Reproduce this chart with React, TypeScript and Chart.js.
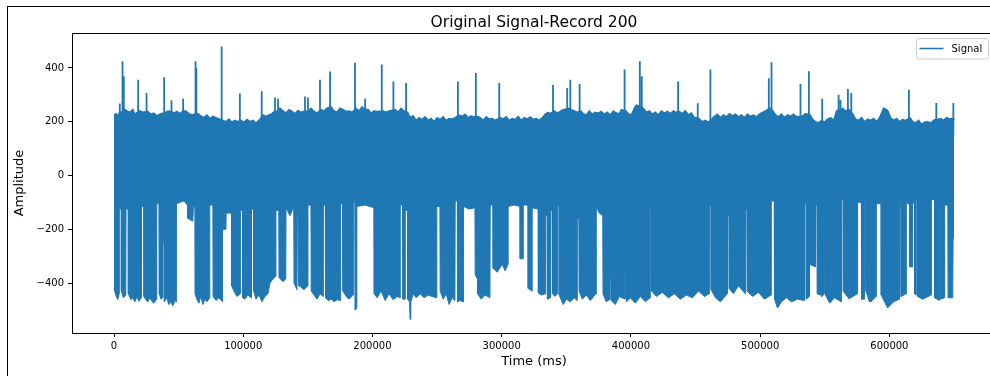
import React, { useEffect, useRef } from 'react';
import { Chart, registerables } from 'chart.js';

Chart.register(...registerables);

// ---------- data ----------
const titleText = 'Original Signal-Record 200';
const xLabel = 'Time (ms)';
const yLabel = 'Amplitude';
const legendLabel = 'Signal';

const xTicks = [0, 100000, 200000, 300000, 400000, 500000, 600000];
const yTicks = [-400, -200, 0, 200, 400];

// upper envelope of the dense band (time in ms, amplitude)
const upperTime = [
  0, 1400, 2900, 4500, 5700, 7200, 8400, 9900, 12200, 14600, 16100, 20000, 22300, 26200, 28500,
  30800, 33200, 35500, 40100, 41700, 44500, 46300, 48600, 51000, 53500, 55600, 57900, 60300, 64900,
  67200, 69600, 71900, 74200, 76500, 78900, 81200, 84300, 86600, 88900, 91200, 93600, 95900, 98200,
  100500, 102900, 105200, 107500, 109800, 112200, 115300, 117600, 119900, 122200, 124600, 126900,
  128400, 130800, 133100, 135400, 137700, 140000, 142400, 144700, 147800, 150100, 152400, 154800,
  157100, 160200, 162500, 164800, 167900, 170300, 172600, 174900, 177200, 179600, 181900, 184200,
  187300, 189600, 191900, 194300, 196600, 198900, 201200, 203600, 208200, 210500, 212900, 217500,
  219800, 222200, 224500, 227200, 229100, 231500, 233800, 236100, 238400, 240700, 243100, 245400,
  247700, 250000, 252400, 254700, 257000, 259300, 261700, 264000, 267100, 269400, 271700, 274100,
  276400, 277900, 281000, 283300, 285700, 288000, 290300, 292600, 295000, 298800, 301200, 303500,
  305800, 308100, 310500, 312800, 315100, 317400, 319800, 322100, 324400, 326700, 329100, 331400,
  333700, 336000, 337600, 340700, 343000, 345300, 347600, 351900, 353800, 356200, 358500, 361200,
  363100, 365500, 367800, 370100, 372400, 374800, 377100, 379400, 381700, 384000, 386400, 388700,
  391000, 392600, 396100, 398000, 400300, 402600, 404200, 405700, 409600, 411900, 414300, 416600,
  418900, 421200, 423600, 425900, 428200, 430500, 432800, 434400, 437500, 439800, 442100, 444500,
  446800, 449100, 451700, 453000, 455300, 457600, 460000, 462700, 464600, 466900, 469300, 471600,
  473900, 476200, 478500, 480900, 483200, 485500, 487800, 490200, 492500, 494800, 497100, 499500,
  501800, 504100, 507600, 509900, 511900, 514200, 516500, 518800, 521200, 523500, 525800, 528100,
  532400, 535100, 538600, 540500, 542800, 545200, 547500, 549800, 552100, 554500, 556800, 559100,
  560700, 562200, 563800, 566100, 568800, 571500, 573800, 576100, 578500, 580800, 583100, 585400,
  587800, 590100, 592400, 595500, 597800, 599000, 600900, 603300, 605600, 607900, 610200, 612600,
  616000, 618000, 620300, 622600, 624900, 627300, 629600, 631900, 634200, 636300, 637300, 639700,
  642000, 644300, 646600, 648200, 649500, 650000,
];
const upperAmp = [
  225, 230, 222, 235, 235, 240, 245, 240, 235, 245, 228, 240, 235, 238, 228,
  232, 222, 228, 235, 240, 238, 232, 238, 230, 240, 240, 230, 225, 230,
  222, 215, 225, 212, 220, 215, 210, 205, 200, 210, 198, 205, 200, 205,
  198, 208, 200, 205, 195, 205, 225, 220, 225, 230, 240, 238,
  250, 240, 232, 245, 238, 230, 242, 235, 240, 238, 250, 238,
  232, 245, 240, 250, 255, 240, 235, 250, 245, 238, 240, 235,
  250, 240, 255, 245, 245, 232, 240, 238, 240, 235, 240, 245,
  235, 250, 240, 235, 215, 222, 205, 215, 208, 218, 205, 212,
  200, 215, 208, 218, 205, 212, 210, 215, 225, 220, 228, 215,
  222, 218, 220, 215, 205, 218, 210, 212, 205, 215, 210, 218,
  205, 212, 208, 220, 205, 215, 210, 218, 208, 212, 205, 215,
  228, 235, 230, 240, 232, 238, 245, 250, 245, 240, 235, 240,
  230, 225, 240, 228, 235, 232, 238, 228, 235, 225, 240, 232,
  230, 245, 240, 230, 225, 250, 262, 260, 250, 235, 240, 228,
  235, 225, 240, 232, 238, 230, 240, 235, 238, 230, 240, 225,
  232, 215, 215, 210, 200, 205, 198, 210, 220, 228, 215, 225,
  218, 230, 222, 228, 218, 225, 215, 228, 220, 225, 218, 228,
  235, 240, 250, 240, 225, 218, 228, 215, 225, 220, 228, 218,
  220, 230, 225, 210, 200, 195, 205, 198, 210, 215, 205, 240,
  245, 240, 250, 240, 245, 230, 210, 205, 215, 200, 210, 205,
  212, 200, 215, 250, 245, 238, 215, 205, 212, 200, 208, 205,
  215, 200, 195, 205, 190, 198, 200, 195, 205, 210, 208, 212,
  205, 215, 210, 212, 212, 205,
];

// peaks rising above the band (time in ms, peak amplitude)
const spikeTime = [
  4500, 6600, 7600, 18700, 25200, 38800, 44500, 53500, 63100, 63700,
  83300, 97400, 114300, 124600, 126900, 147800, 150100, 159400, 167200, 186500,
  194300, 207200, 216200, 226000, 266100, 280000, 298100, 339700, 350700, 353100,
  360300, 395100, 406900, 408400, 436500, 451700, 461500, 506700, 508800, 531200,
  537700, 548000, 560700, 562200, 567900, 570500, 615100, 636300, 649500,
];
const spikePeak = [
  268, 425, 369, 356, 307, 365, 280, 285, 425, 400,
  480, 305, 313, 290, 285, 294, 290, 356, 387, 419,
  285, 413, 350, 344, 350, 381, 344, 337, 325, 356,
  340, 394, 425, 369, 350, 269, 394, 362, 421, 340,
  388, 285, 300, 280, 322, 307, 319, 270, 270,
];
const spikeBase = 150;

// lower envelope of the signal (time in ms, amplitude)
const lowerTime = [
  0, 1400, 2900, 4000, 4100, 5700, 5700, 7200, 9100, 9300, 11100, 11100, 13000, 14600, 16100, 17700,
  19200, 21100, 21300, 23100, 23200, 24600, 26200, 27700, 29300, 30800, 32900, 33100, 34900, 35100,
  36300, 37800, 37900, 38900, 39000, 40900, 42400, 44000, 45500, 47100, 48100, 48300, 51000, 54100,
  56800, 57200, 61000, 61400, 62600, 62700, 64100, 65700, 67200, 68800, 70300, 71900, 74000, 74100,
  76500, 76700, 78900, 81200, 83900, 84000, 86600, 86800, 90900, 91000, 92800, 95100, 97700, 97800,
  99500, 99700, 101300, 103600, 106200, 106400, 108100, 108200, 109800, 112200, 114500, 116800,
  119100, 120700, 123000, 125200, 125300, 127500, 127700, 130800, 132900, 133100, 136200, 139100,
  139300, 141600, 141900, 143000, 143100, 144700, 147000, 150000, 150100, 152400, 152600, 154800,
  157100, 159400, 161800, 162000, 163500, 163700, 165600, 168500, 170300, 172600, 175300, 175400,
  177000, 177200, 179600, 181900, 185100, 185200, 186500, 186700, 187800, 187900, 194300, 201200,
  201400, 203600, 206700, 209800, 212900, 216000, 219100, 221400, 221500, 223400, 223600, 225300,
  225400, 227100, 227300, 228700, 229100, 229700, 231500, 233800, 236900, 240000, 243100, 246200,
  249700, 249800, 252200, 252400, 254700, 257000, 259300, 261700, 263800, 264000, 265700, 265800,
  267900, 270300, 270400, 274800, 279300, 279500, 281300, 281400, 284100, 287200, 290900, 291100,
  293300, 293400, 296500, 300400, 302700, 304900, 305000, 309700, 314200, 314300, 316500, 316700,
  320400, 320500, 323500, 323600, 328300, 328400, 330600, 333900, 334000, 335200, 335400, 337700,
  337900, 339100, 339300, 341400, 343000, 343100, 344400, 344500, 347600, 350000, 353100, 356200,
  358300, 358500, 359700, 359900, 362400, 365500, 368600, 373000, 373200, 375500, 378200, 378400,
  380900, 383700, 383800, 384600, 384800, 387900, 391000, 395500, 395700, 396400, 396600, 399500,
  403400, 407300, 411200, 414900, 415000, 416000, 416100, 419700, 424300, 429000, 433600, 438300,
  442900, 447600, 452200, 456900, 460600, 460700, 462000, 462100, 465400, 469300, 474500, 474700,
  475800, 475900, 479300, 483200, 488500, 488600, 489700, 489900, 494000, 498700, 503300, 508400,
  508600, 510900, 511100, 513400, 516500, 520400, 524200, 528900, 534200, 534300, 535600, 535700,
  538000, 538200, 542700, 542800, 543900, 544100, 546600, 546700, 547500, 547600, 548900, 549000,
  550000, 550100, 553700, 557600, 562800, 563000, 564100, 564200, 569000, 569200, 569900, 570100,
  575200, 575400, 578300, 578500, 580600, 580800, 581700, 581900, 584500, 584700, 585400, 585600,
  589700, 589900, 593600, 593700, 598600, 603300, 607800, 607900, 609000, 609100, 612900, 613100,
  615700, 615800, 617800, 618000, 619400, 619500, 620600, 620800, 621700, 621800, 625700, 632300,
  632500, 634900, 635000, 638600, 638700, 639700, 639800, 642600, 642800, 645200, 645400, 649000,
  649300, 650000,
];
const lowerAmp = [
  -420, -445, -462, -440, -125, -125, -430, -455, -445, -125, -125, -440, -462, -455, -470, -450,
  -468, -455, -115, -115, -450, -462, -470, -455, -468, -475, -460, -105, -105, -440,
  -460, -455, -250, -250, -470, -455, -480, -470, -485, -465, -470, -105, -100, -95,
  -110, -160, -170, -120, -115, -440, -460, -475, -450, -480, -460, -470, -455, -110,
  -110, -450, -465, -455, -470, -200, -200, -140, -140, -410, -430, -450, -440, -130,
  -130, -455, -460, -445, -455, -125, -125, -430, -460, -445, -470, -450,
  -440, -400, -385, -375, -130, -130, -380, -395, -385, -120, -150, -115,
  -400, -425, -150, -150, -410, -415, -425, -410, -110, -110, -430, -445,
  -460, -440, -450, -110, -110, -455, -465, -460, -470, -462, -465, -105,
  -105, -430, -450, -460, -445, -100, -100, -500, -495, -115, -110, -120,
  -440, -455, -430, -465, -440, -462, -450, -455, -110, -110, -460, -460,
  -130, -130, -460, -470, -535, -470, -440, -455, -440, -455, -445, -450,
  -455, -115, -115, -430, -460, -440, -480, -455, -465, -95, -95, -470,
  -465, -470, -115, -125, -120, -370, -385, -440, -460, -445, -455, -110,
  -110, -345, -360, -330, -355, -330, -115, -110, -115, -310, -310, -110,
  -110, -420, -430, -120, -125, -437, -445, -440, -150, -150, -460, -455,
  -130, -130, -440, -450, -440, -110, -110, -445, -480, -460, -470, -455,
  -465, -160, -160, -430, -460, -445, -465, -440, -115, -140, -150, -440,
  -470, -460, -380, -380, -465, -480, -450, -460, -360, -360, -470, -455,
  -475, -450, -470, -455, -130, -130, -430, -450, -435, -455, -440, -460,
  -445, -455, -430, -450, -440, -110, -110, -425, -455, -470, -440, -150,
  -150, -420, -440, -410, -440, -125, -125, -430, -450, -435, -460, -445,
  -95, -95, -460, -493, -470, -455, -470, -460, -465, -105, -105, -460,
  -450, -330, -340, -110, -110, -440, -445, -245, -245, -450, -445, -170,
  -170, -440, -475, -455, -470, -90, -90, -430, -460, -150, -150, -455,
  -440, -100, -100, -460, -460, -80, -80, -430, -470, -330, -330, -470,
  -450, -105, -105, -445, -493, -470, -460, -115, -115, -450, -440, -100,
  -110, -340, -340, -105, -100, -440, -445, -80, -80, -450, -460, -445,
  -90, -90, -455, -465, -125, -125, -460, -455, -110, -110, -455, -455,
  -232, -232,
];

const BLUE = '#1f77b4';
const FONT = "'DejaVu Sans', sans-serif";

const minusLabel = (v: number) => (v < 0 ? '\u2212' + Math.abs(v) : String(v));

export default function App() {
  const ref = useRef<HTMLCanvasElement>(null);

  useEffect(() => {
    const canvas = ref.current;
    if (!canvas) return;
    Chart.defaults.font.family = FONT;

    const deco = {
      id: 'deco',
      afterDraw(chart: any) {
        const { ctx, chartArea: ca } = chart;
        ctx.save();
        ctx.strokeStyle = '#000';
        ctx.lineWidth = 1;
        ctx.beginPath();
        ctx.moveTo(ca.left, Math.round(ca.top) + 0.5);
        ctx.lineTo(ca.right, Math.round(ca.top) + 0.5);
        ctx.stroke();
        ctx.beginPath();
        ctx.moveTo(Math.round(ca.right) + 0.5, ca.top);
        ctx.lineTo(Math.round(ca.right) + 0.5, ca.bottom);
        ctx.stroke();

        const cx = (ca.left + ca.right) / 2;
        ctx.fillStyle = '#000';
        ctx.font = `15.5px ${FONT}`;
        ctx.textAlign = 'center';
        ctx.textBaseline = 'alphabetic';
        ctx.fillText(titleText, cx, ca.top - 6.5);
        ctx.font = `13px ${FONT}`;
        ctx.textBaseline = 'middle';
        ctx.fillText(xLabel, cx, 362);
        ctx.save();
        ctx.translate(20, (ca.top + ca.bottom) / 2);
        ctx.rotate(-Math.PI / 2);
        ctx.fillText(yLabel, 0, 0);
        ctx.restore();

        // legend
        const lx = ca.right - 79.5;
        const ly = ca.top + 5.5;
        const lw = 72;
        const lh = 20.5;
        const r = 2.5;
        ctx.beginPath();
        ctx.moveTo(lx + r, ly);
        ctx.lineTo(lx + lw - r, ly);
        ctx.quadraticCurveTo(lx + lw, ly, lx + lw, ly + r);
        ctx.lineTo(lx + lw, ly + lh - r);
        ctx.quadraticCurveTo(lx + lw, ly + lh, lx + lw - r, ly + lh);
        ctx.lineTo(lx + r, ly + lh);
        ctx.quadraticCurveTo(lx, ly + lh, lx, ly + lh - r);
        ctx.lineTo(lx, ly + r);
        ctx.quadraticCurveTo(lx, ly, lx + r, ly);
        ctx.closePath();
        ctx.fillStyle = 'rgba(255,255,255,0.8)';
        ctx.fill();
        ctx.strokeStyle = '#cccccc';
        ctx.lineWidth = 1;
        ctx.stroke();
        ctx.strokeStyle = BLUE;
        ctx.lineWidth = 1.5;
        ctx.beginPath();
        ctx.moveTo(lx + 3, ly + 10);
        ctx.lineTo(lx + 27, ly + 10);
        ctx.stroke();
        ctx.fillStyle = '#000';
        ctx.font = `10px ${FONT}`;
        ctx.textAlign = 'left';
        ctx.textBaseline = 'middle';
        ctx.fillText(legendLabel, lx + 35, ly + 10.5);
        ctx.restore();
      },
    };

    const spikeData: any[] = [];
    spikeTime.forEach((t, i) => {
      spikeData.push({ x: t, y: spikeBase }, { x: t, y: spikePeak[i] }, { x: t, y: null });
    });

    const chart = new Chart(canvas, {
      type: 'line',
      data: {
        datasets: [
          {
            label: legendLabel,
            data: upperTime.map((t, i) => ({ x: t, y: upperAmp[i] })),
            borderColor: BLUE,
            backgroundColor: BLUE,
            borderWidth: 1.5,
            pointRadius: 0,
            tension: 0,
            fill: { value: -90 },
          },
          {
            label: legendLabel + ' low',
            data: lowerTime.map((t, i) => ({ x: t, y: lowerAmp[i] })),
            borderColor: BLUE,
            backgroundColor: BLUE,
            borderWidth: 1,
            pointRadius: 0,
            tension: 0,
            fill: 'origin',
          },
          {
            label: legendLabel + ' peaks',
            data: spikeData,
            borderColor: BLUE,
            borderWidth: 1.8,
            pointRadius: 0,
            tension: 0,
            spanGaps: false,
            fill: false,
          },
        ],
      },
      options: {
        responsive: false,
        animation: false,
        devicePixelRatio: 1,
        layout: { padding: { left: 0, right: 4, top: 33, bottom: 0 } },
        plugins: {
          legend: { display: false },
          title: { display: false },
          tooltip: { enabled: false },
        },
        events: [],
        scales: {
          x: {
            type: 'linear',
            min: -32500,
            max: 682500,
            afterBuildTicks: (s: any) => {
              s.ticks = xTicks.map((v) => ({ value: v }));
            },
            afterFit: (s: any) => {
              s.height = 43;
            },
            ticks: {
              callback: (v: any) => String(v),
              color: '#000',
              font: { size: 10, family: FONT },
              padding: 3,
              maxRotation: 0,
              autoSkip: false,
            },
            grid: { drawOnChartArea: false, drawTicks: true, tickLength: 4, color: '#000' },
            border: { display: true, color: '#000', width: 1 },
          },
          y: {
            type: 'linear',
            min: -586,
            max: 530,
            afterBuildTicks: (s: any) => {
              s.ticks = yTicks.map((v) => ({ value: v }));
            },
            afterFit: (s: any) => {
              s.width = 72;
            },
            ticks: {
              callback: (v: any) => minusLabel(Number(v)),
              color: '#000',
              font: { size: 10, family: FONT },
              padding: 4,
              autoSkip: false,
            },
            grid: { drawOnChartArea: false, drawTicks: true, tickLength: 4, color: '#000' },
            border: { display: true, color: '#000', width: 1 },
          },
        },
      },
      plugins: [deco],
    });

    return () => chart.destroy();
  }, []);

  return (
    <div
      style={{
        position: 'absolute',
        left: 0,
        top: 0,
        width: 990,
        height: 376,
        overflow: 'hidden',
        background: '#fff',
      }}
    >
      <div
        style={{
          position: 'absolute',
          left: 7,
          top: 6,
          width: 1100,
          height: 500,
          borderLeft: '1px solid #000',
          borderTop: '1px solid #000',
        }}
      />
      <canvas
        ref={ref}
        width={1000}
        height={376}
        style={{ position: 'absolute', left: 0, top: 0, width: 1000, height: 376 }}
      />
    </div>
  );
}
